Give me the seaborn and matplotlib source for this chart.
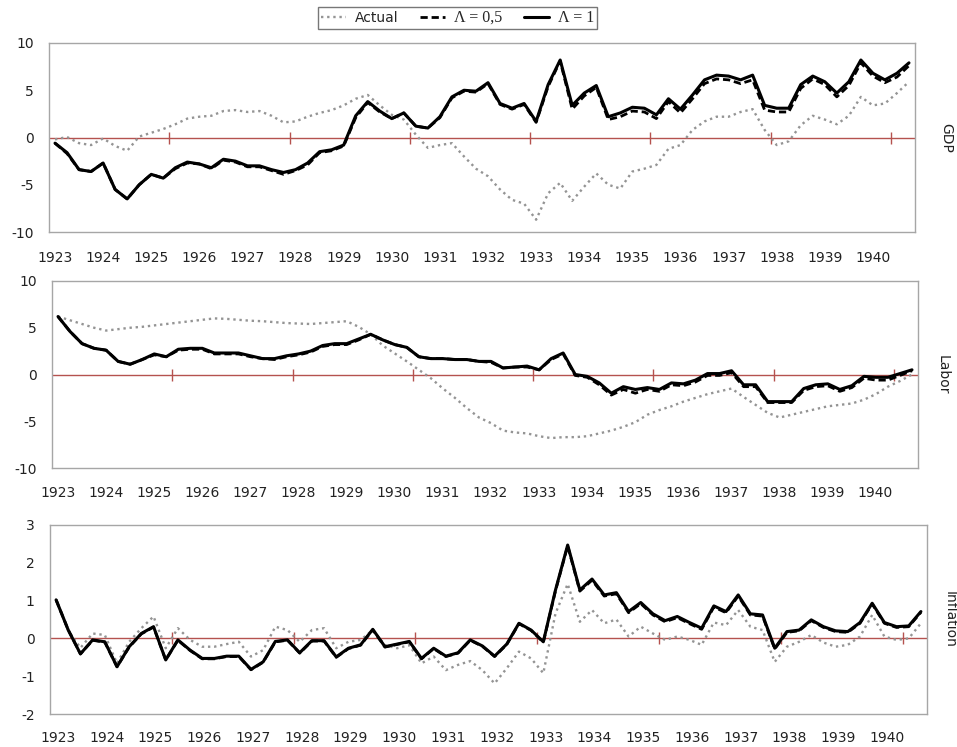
import numpy as np
import pandas as pd
import matplotlib
matplotlib.use("Agg")
import matplotlib.pyplot as plt
import seaborn as sns

# ---------------- data (quarterly, 1923Q1 .. 1940Q4) ----------------
years = [str(y) for y in range(1923, 1941)]
quarters = list(range(72))

gdp_actual = [-0.2, 0.05, -0.6, -0.8, -0.1, -0.9, -1.4, 0.1, 0.5, 0.9,
              1.4, 2.0, 2.2, 2.3, 2.8, 2.9, 2.7, 2.8, 2.3, 1.6,
              1.7, 2.2, 2.6, 2.9, 3.4, 4.1, 4.5, 3.4, 2.4, 1.9,
              0.3, -1.1, -0.8, -0.6, -2.0, -3.3, -4.1, -5.5, -6.6, -7.0,
              -8.7, -5.9, -4.8, -6.7, -5.2, -3.8, -5.0, -5.4, -3.6, -3.3,
              -2.9, -1.2, -0.8, 0.8, 1.7, 2.2, 2.2, 2.7, 3.0, 0.8,
              -0.8, -0.4, 1.3, 2.3, 1.9, 1.4, 2.3, 4.3, 3.4, 3.6,
              4.7, 5.9]
gdp_lam05 = [-0.6, -1.7, -3.4, -3.6, -2.7, -5.5, -6.5, -5.0, -3.9, -4.3,
             -3.3, -2.7, -2.8, -3.3, -2.4, -2.6, -3.1, -3.1, -3.5, -3.9,
             -3.5, -2.9, -1.6, -1.4, -0.9, 2.1, 3.7, 2.7, 2.0, 2.6,
             1.2, 1.0, 2.1, 4.2, 4.9, 4.8, 5.7, 3.5, 3.0, 3.5,
             1.6, 5.4, 8.1, 3.0, 4.4, 5.3, 1.9, 2.2, 2.8, 2.7,
             2.0, 3.8, 2.6, 4.1, 5.7, 6.2, 6.1, 5.7, 6.1, 2.9,
             2.7, 2.7, 5.2, 6.2, 5.6, 4.3, 5.5, 7.9, 6.5, 5.8,
             6.4, 7.6]
gdp_lam1 = [-0.6, -1.6, -3.4, -3.6, -2.7, -5.5, -6.5, -5.0, -3.9, -4.3,
            -3.2, -2.6, -2.8, -3.2, -2.3, -2.5, -3.0, -3.0, -3.4, -3.7,
            -3.4, -2.7, -1.5, -1.3, -0.8, 2.3, 3.8, 2.8, 2.0, 2.6,
            1.2, 1.0, 2.2, 4.3, 5.0, 4.9, 5.8, 3.6, 3.1, 3.6,
            1.7, 5.6, 8.2, 3.4, 4.7, 5.5, 2.2, 2.6, 3.2, 3.1,
            2.4, 4.1, 3.0, 4.5, 6.1, 6.6, 6.5, 6.1, 6.6, 3.4,
            3.1, 3.1, 5.6, 6.5, 5.9, 4.7, 5.9, 8.2, 6.8, 6.1,
            6.8, 7.9]

labor_actual = [6.2, 5.8, 5.4, 5.0, 4.7, 4.85, 5.0, 5.1, 5.25, 5.4,
                5.55, 5.7, 5.85, 6.0, 5.95, 5.85, 5.75, 5.7, 5.6, 5.5,
                5.45, 5.4, 5.5, 5.6, 5.7, 5.1, 4.3, 3.1, 2.25, 1.4,
                0.5, -0.4, -1.5, -2.5, -3.6, -4.6, -5.2, -6.0, -6.2, -6.3,
                -6.6, -6.8, -6.7, -6.7, -6.6, -6.3, -6.0, -5.6, -5.1, -4.3,
                -3.8, -3.4, -2.9, -2.5, -2.1, -1.8, -1.5, -2.4, -3.25, -4.1,
                -4.6, -4.3, -4.0, -3.7, -3.4, -3.25, -3.1, -2.7, -2.1, -1.3,
                -0.7, 0.0]
labor_lam05 = [6.2, 4.6, 3.3, 2.8, 2.6, 1.4, 1.1, 1.6, 2.1, 1.9,
               2.6, 2.7, 2.7, 2.2, 2.2, 2.2, 1.9, 1.7, 1.6, 1.9,
               2.1, 2.4, 3.0, 3.2, 3.2, 3.7, 4.3, 3.7, 3.2, 2.9,
               1.9, 1.7, 1.7, 1.6, 1.6, 1.4, 1.3, 0.7, 0.8, 0.8,
               0.5, 1.6, 2.2, -0.1, -0.3, -1.1, -2.2, -1.6, -2.0, -1.6,
               -1.8, -1.1, -1.2, -0.8, -0.1, -0.1, 0.2, -1.3, -1.3, -3.0,
               -3.0, -3.0, -1.7, -1.3, -1.2, -1.8, -1.4, -0.4, -0.6, -0.6,
               -0.1, 0.4]
labor_lam1 = [6.2, 4.6, 3.3, 2.8, 2.6, 1.4, 1.1, 1.6, 2.2, 1.9,
              2.7, 2.8, 2.8, 2.3, 2.3, 2.3, 2.0, 1.7, 1.7, 2.0,
              2.2, 2.5, 3.1, 3.3, 3.3, 3.8, 4.3, 3.7, 3.2, 2.9,
              1.9, 1.7, 1.7, 1.6, 1.6, 1.4, 1.4, 0.7, 0.8, 0.9,
              0.5, 1.7, 2.3, 0.0, -0.2, -0.9, -2.0, -1.3, -1.6, -1.4,
              -1.6, -0.9, -1.0, -0.6, 0.1, 0.1, 0.4, -1.1, -1.1, -2.9,
              -2.9, -2.9, -1.5, -1.1, -1.0, -1.6, -1.2, -0.2, -0.3, -0.3,
              0.1, 0.5]

infl_actual = [1.02, 0.2, -0.25, 0.13, 0.09, -0.66, -0.09, 0.27, 0.58, -0.26,
               0.27, -0.04, -0.22, -0.22, -0.15, -0.09, -0.48, -0.31, 0.31, 0.22,
               -0.09, 0.22, 0.27, -0.26, -0.09, -0.04, 0.22, -0.18, -0.26, -0.18,
               -0.66, -0.48, -0.84, -0.7, -0.6, -0.84, -1.19, -0.79, -0.35, -0.53,
               -0.92, 0.66, 1.44, 0.44, 0.75, 0.4, 0.5, 0.05, 0.31, 0.13,
               -0.04, 0.05, -0.04, -0.17, 0.42, 0.35, 0.75, 0.31, 0.22, -0.62,
               -0.22, -0.09, 0.09, -0.11, -0.22, -0.17, 0.05, 0.62, 0.05, -0.04,
               0.0, 0.4]
infl_lam05 = [1.02, 0.22, -0.41, -0.05, -0.1, -0.75, -0.23, 0.12, 0.3, -0.57,
              -0.05, -0.32, -0.54, -0.54, -0.48, -0.48, -0.83, -0.63, -0.09, -0.05,
              -0.39, -0.07, -0.07, -0.5, -0.27, -0.18, 0.23, -0.23, -0.16, -0.09,
              -0.54, -0.27, -0.48, -0.39, -0.05, -0.21, -0.48, -0.16, 0.39, 0.21,
              -0.1, 1.26, 2.45, 1.25, 1.54, 1.12, 1.18, 0.68, 0.92, 0.62,
              0.44, 0.55, 0.39, 0.24, 0.83, 0.68, 1.12, 0.62, 0.59, -0.28,
              0.16, 0.2, 0.47, 0.29, 0.18, 0.16, 0.4, 0.91, 0.4, 0.29,
              0.31, 0.69]
infl_lam1 = [1.02, 0.22, -0.41, -0.04, -0.09, -0.75, -0.22, 0.13, 0.31, -0.57,
             -0.04, -0.31, -0.53, -0.53, -0.47, -0.47, -0.82, -0.62, -0.08, -0.04,
             -0.38, -0.06, -0.06, -0.49, -0.26, -0.17, 0.24, -0.22, -0.15, -0.08,
             -0.53, -0.26, -0.47, -0.38, -0.04, -0.2, -0.47, -0.15, 0.4, 0.22,
             -0.09, 1.28, 2.47, 1.28, 1.57, 1.15, 1.21, 0.71, 0.95, 0.65,
             0.47, 0.58, 0.42, 0.27, 0.86, 0.71, 1.15, 0.65, 0.62, -0.26,
             0.18, 0.22, 0.49, 0.31, 0.2, 0.18, 0.42, 0.93, 0.42, 0.31,
             0.33, 0.71]

panel_names = ["GDP", "Labor", "Inflation"]
panel_series = [(gdp_actual, gdp_lam05, gdp_lam1),
                (labor_actual, labor_lam05, labor_lam1),
                (infl_actual, infl_lam05, infl_lam1)]
panel_yticks = [[-10, -5, 0, 5, 10], [-10, -5, 0, 5, 10], [-2, -1, 0, 1, 2, 3]]
series_labels = ["Actual", "\u039b = 0,5", "\u039b = 1"]
zero_tick_positions = [9.5, 19.5, 29.5, 39.5, 49.5, 59.5, 69.5]

# ---------------- style ----------------
sns.set_style("white")
plt.rcParams["font.family"] = ["DejaVu Sans"]

W, H = 957, 747
fig = plt.figure(figsize=(W / 100, H / 100), dpi=100)

# axes boxes in pixels: left, top, right, bottom
boxes = [(49, 43, 915, 232), (52, 281, 918, 468), (50, 525, 927, 714)]
# year label rows: y, x first, x last (pixels)
year_rows = [(258, 55, 873), (493, 58, 875), (738, 58, 887)]
right_label_x = [946, 943, 950]

red = "#b5524f"
spine_gray = "#a6a6a6"
text_col = "#222222"

handles = None
for k, (name, (act, l05, l1), yt) in enumerate(zip(panel_names, panel_series, panel_yticks)):
    L, T, R, B = boxes[k]
    ax = fig.add_axes([L / W, 1 - B / H, (R - L) / W, (B - T) / H])
    df = pd.DataFrame({"q": quarters, "act": act, "l05": l05, "l1": l1})

    ax.axhline(0, color=red, lw=1.0, zorder=1)
    ax.plot(zero_tick_positions, [0] * len(zero_tick_positions), linestyle="none",
            marker="|", markersize=9, markeredgewidth=1.0, color=red, zorder=1)

    sns.lineplot(data=df, x="q", y="act", ax=ax, color="#949494", lw=1.7,
                 linestyle=(0, (1, 1.6)), label=series_labels[0], legend=False, zorder=2)
    sns.lineplot(data=df, x="q", y="l05", ax=ax, color="black", lw=2.0,
                 linestyle=(0, (2.6, 1.4)), label=series_labels[1], legend=False, zorder=3)
    sns.lineplot(data=df, x="q", y="l1", ax=ax, color="black", lw=2.2,
                 linestyle="-", label=series_labels[2], legend=False, zorder=4)

    ax.set_xlim(-0.5, 71.5)
    ax.set_ylim(yt[0], yt[-1])
    ax.set_yticks(yt)
    ax.set_yticklabels([str(v) for v in yt])
    ax.set_xticks([])
    ax.set_xlabel("")
    ax.set_ylabel("")
    ax.tick_params(axis="y", length=0, pad=11, labelsize=10, labelcolor=text_col)
    for s in ax.spines.values():
        s.set_visible(True)
        s.set_color(spine_gray)
        s.set_linewidth(1.0)
    ax.grid(False)

    ax.text((right_label_x[k] - L) / (R - L), 0.5, name, rotation=-90,
            transform=ax.transAxes, ha="center", va="center", fontsize=10,
            color=text_col)

    yrow, x0, x1 = year_rows[k]
    xs = np.linspace(x0, x1, len(years))
    for xp, lab in zip(xs, years):
        fig.text(xp / W, 1 - yrow / H, lab, ha="center", va="center",
                 fontsize=10, color=text_col)

    if handles is None:
        handles, labels = ax.get_legend_handles_labels()

leg = fig.legend(handles, labels, loc="center", bbox_to_anchor=(457.5 / W, 1 - 18 / H),
                 ncol=3, frameon=True, fancybox=False, edgecolor="#555555",
                 fontsize=10, handlelength=1.8, handletextpad=0.6, columnspacing=1.6,
                 borderpad=0.25)
leg.get_frame().set_linewidth(1.0)
for t in leg.get_texts()[1:]:
    t.set_family(["Liberation Serif", "DejaVu Serif"])
    t.set_fontsize(11.5)

fig.savefig("out.png", dpi=100, facecolor="white")
